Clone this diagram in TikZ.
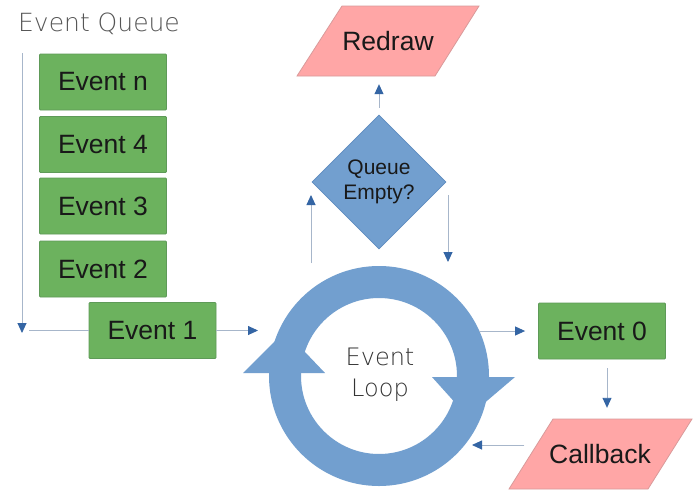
\documentclass[tikz,border=0pt]{standalone}
\usepackage{fontspec}
\setmainfont{Liberation Sans}
\newfontfamily\thinfont{DejaVu Sans ExtraLight}
\usetikzlibrary{arrows.meta,shapes.geometric}
\definecolor{boxgreen}{HTML}{6CB25E}
\definecolor{boxgreenedge}{HTML}{5E9A58}
\definecolor{ringblue}{HTML}{729FCF}
\definecolor{ringedge}{HTML}{5F8CC0}
\definecolor{pinkfill}{HTML}{FFA6A6}
\definecolor{pinkedge}{HTML}{D99A9A}
\definecolor{linegray}{HTML}{A7B6CA}
\definecolor{headblue}{HTML}{3465A4}
\definecolor{titlegray}{HTML}{555555}
\tikzset{
  evbox/.style={draw=boxgreenedge, line width=0.8pt, fill=boxgreen, rounded corners=1pt,
    minimum width=127pt, minimum height=56pt, inner sep=0pt,
    font=\fontsize{26.5}{30}\selectfont, text=black!90},
  pinkshape/.style={draw=pinkedge, line width=0.8pt, fill=pinkfill},
  pinklabel/.style={minimum width=137pt, minimum height=70pt, inner sep=0pt,
    font=\fontsize{26.5}{30}\selectfont, text=black!90},
  decision/.style={diamond, draw=ringedge, line width=0.8pt, fill=ringblue,
    minimum width=134pt, minimum height=134pt, inner sep=0pt, align=center,
    font=\fontsize{21}{25}\selectfont, text=black!90},
  conn/.style={draw=linegray, line width=0.9pt},
  arr/.style={conn, -{Triangle[length=10pt,width=9pt,color=headblue]}},
}
\begin{document}
\begin{tikzpicture}[x=1pt,y=-1pt]
\useasboundingbox[fill=white] (0,0) rectangle (696,493);

% title
\node[anchor=base west, inner sep=0pt, font=\thinfont\fontsize{25}{30}\selectfont, text=titlegray] (title) at (18,31) {Event Queue};

% queue boxes
\node[evbox] (en) at (103,82) {Event n};
\node[evbox] (e4) at (103,144.5) {Event 4};
\node[evbox] (e3) at (103,206) {Event 3};
\node[evbox] (e2) at (103,269) {Event 2};
\node[evbox] (e1) at (152.5,330.5) {Event 1};
\node[evbox] (e0) at (602,331) {Event 0};

% event loop ring
\draw[ringblue, line width=32pt] (379,376) circle[radius=94pt];
\fill[ringblue] (243,373) -- (325,373) -- (285,331) -- cycle;
\fill[ringblue] (432,377) -- (515,377) -- (468,417) -- cycle;
\node[align=center, inner sep=0pt, font=\thinfont\fontsize{24}{31}\selectfont, text=black!80] (loop) at (380,375) {Event\\Loop};

% decision
\node[decision] (q) at (379,182) {Queue\\Empty?};

% redraw
\draw[pinkshape] (342,6) -- (479,6) -- (435,76) -- (297,76) -- cycle;
\node[pinklabel] (rd) at (388,41) {Redraw};

% callback
\draw[pinkshape] (553,419) -- (692,419) -- (648,489) -- (509,489) -- cycle;
\node[pinklabel] (cb) at (600,454) {Callback};

% coordinates on the ring
\coordinate (qtop) at (22,53);
\coordinate (qbot) at (22,333);
\coordinate (loopin) at (258,330.5);
\coordinate (loopout) at (479,331);
\coordinate (loopup) at (311,263);
\coordinate (loopdown) at (448,262);
\coordinate (loopret) at (472,445);

% connectors
\draw[arr] (qtop) -- (qbot);
\draw[conn, shorten >=7pt] (e1.west) -- (e1.west -| qbot);
\draw[arr] (e1.east) -- (loopin);
\draw[arr, shorten >=13pt] (loopout) -- (e0.west);
\draw[arr, shorten <=9pt, shorten >=11pt] ([xshift=5pt]e0.south) -- ([xshift=5pt]e0.south |- cb.north);
\draw[arr] ([xshift=-7pt,yshift=9pt]cb.west) -- (loopret);
\draw[arr, shorten >=13pt] (loopup) -- (loopup |- q.west);
\draw[arr, shorten <=13pt] (q.east -| loopdown) -- (loopdown);
\draw[arr, shorten <=7pt, shorten >=8pt] (q.north) -- (q.north |- rd.south);
\end{tikzpicture}
\end{document}
